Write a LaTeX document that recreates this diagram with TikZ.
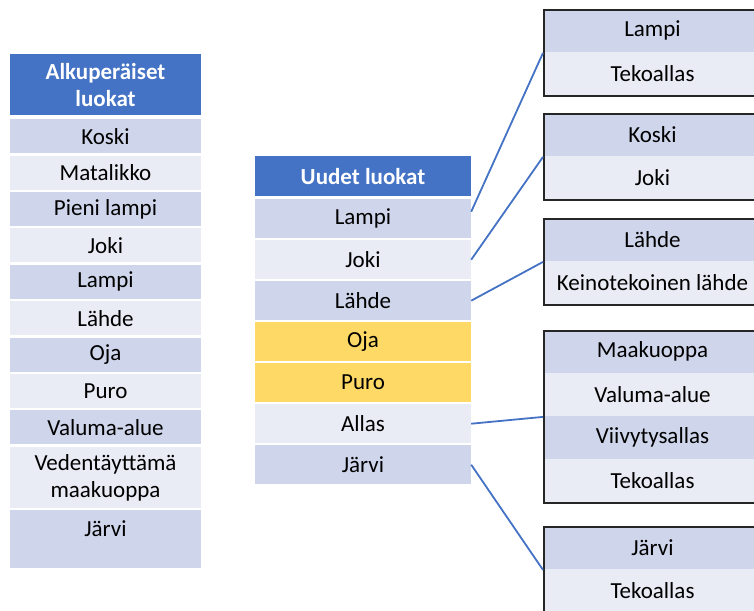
\documentclass[tikz,border=0pt]{standalone}
\usepackage{fontspec}
\setmainfont{Carlito}
\usetikzlibrary{positioning}
\definecolor{hdrblue}{RGB}{68,114,196}
\definecolor{rowdark}{RGB}{207,213,234}
\definecolor{rowlight}{RGB}{233,235,245}
\definecolor{rowyellow}{RGB}{255,217,102}

\begin{document}
\begin{tikzpicture}[x=1pt, y=-1pt,
    cell/.style={rectangle, inner sep=0pt, anchor=north, align=center, font=\fontsize{23}{27}\selectfont},
    hdr/.style={cell, fill=hdrblue, text=white, font=\fontsize{23}{27}\selectfont\bfseries},
    outbox/.style={rectangle, draw=black!85, line width=1.8pt, inner sep=0pt, anchor=north west},
    link/.style={draw=hdrblue, line width=1.8pt}]
      \useasboundingbox (0,0) rectangle (754,610);
      \clip (0,0) rectangle (754,610);

      \node[hdr, minimum width=191, minimum height=61] (old0) at (105.5,54) {Alkuperäiset\\luokat};
      \foreach \i/\t/\c in {1/Koski/rowdark, 2/Matalikko/rowlight, 3/Pieni lampi/rowdark,
          4/Joki/rowlight, 5/Lampi/rowdark, 6/Lähde/rowlight, 7/Oja/rowdark,
          8/Puro/rowlight, 9/Valuma-alue/rowdark}
        \node[cell, fill=\c, minimum width=191, minimum height=34] (old\i) at (105.5,{119+36.4*(\i-1)}) {\t};
      \node[cell, fill=rowlight, minimum width=191, minimum height=61] (old10) at (105.5,447) {Vedentäyttämä\\maakuoppa};
      \node[cell, fill=rowdark, minimum width=191, minimum height=58] (old11) at (105.5,510) {};
      \node[font=\fontsize{23}{27}\selectfont] (old11t) at ([yshift=-19pt]old11.north) {Järvi};

      \node[hdr, minimum width=216, minimum height=40] (mid0) at (363,156) {Uudet luokat};
      \foreach \i/\t/\c in {1/Lampi/rowdark, 2/Joki/rowlight, 3/Lähde/rowdark, 4/Oja/rowyellow,
          5/Puro/rowyellow, 6/Allas/rowlight, 7/Järvi/rowdark}
        \node[cell, fill=\c, minimum width=216, minimum height=39] (mid\i) at (363,{199+41*(\i-1)}) {\t};

      \foreach \b/\y/\n/\rows in {1/9/2/{Lampi,Tekoallas}, 2/113/2/{Koski,Joki},
          3/218/2/{Lähde,Keinotekoinen lähde}, 4/330/4/{Maakuoppa,Valuma-alue,Viivytysallas,Tekoallas},
          5/526/2/{Järvi,Tekoallas}} {
        \foreach \t [count=\k] in \rows {
          \ifodd\k \def\c{rowdark}\else \def\c{rowlight}\fi
          \node[cell, fill=\c, minimum width=219, minimum height=43] (box\b-\k) at (652.5,{\y+43*(\k-1)}) {\t};
        }
        \node[outbox, minimum width=219, minimum height={43*\n}] (box\b) at (543,\y) {};
      }

      \draw[link] ([yshift=7pt]mid1.east) -- (box1.west);
      \draw[link] (mid2.east) -- (box2.west);
      \draw[link] (mid3.east) -- (box3.west);
      \draw[link] (mid6.east) -- (box4.west);
      \draw[link] (mid7.east) -- (box5.west);
\end{tikzpicture}
\end{document}
